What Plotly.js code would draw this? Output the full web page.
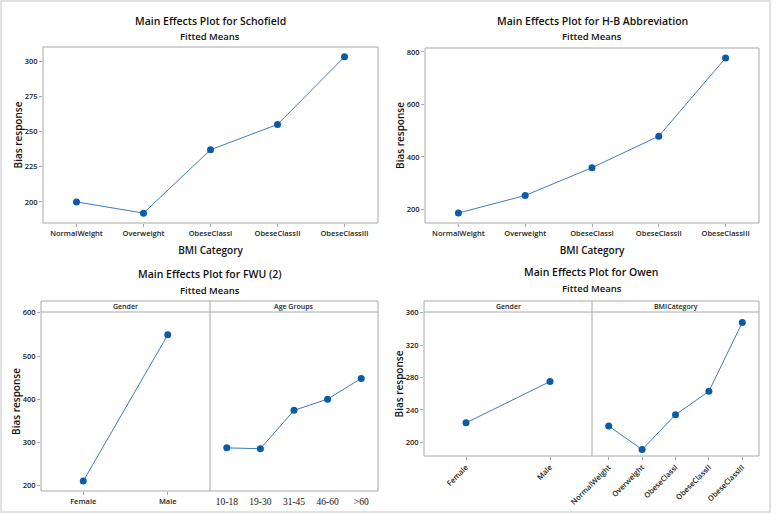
<!DOCTYPE html>
<html>
<head>
<meta charset="utf-8">
<script src="https://cdn.plot.ly/plotly-3.0.1.min.js"></script>
<style>
  html, body { margin: 0; padding: 0; background: #ffffff; }
  #chart { width: 778px; height: 514px; }
</style>
</head>
<body>
<div id="chart"></div>
<script>
// categories
const bmiCats = ['NormalWeight', 'Overweight', 'ObeseClassI', 'ObeseClassII', 'ObeseClassIII'];
const genderCats = ['Female', 'Male'];
const ageCats = ['10-18', '19-30', '31-45', '46-60', '>60'];

// fitted means
const schofield = [200, 192, 237, 255, 303];
const hbAbbrev = [186, 253, 359, 479, 777];
const fwuGender = [210, 549];
const fwuAge = [287, 285, 374, 400, 448];
const owenGender = [224, 275];
const owenBmi = [220, 191, 234, 263, 348];

const FONT = 'Open Sans, Noto Sans, sans-serif';
const BOX = '#a8a8a8';
const LINE = '#3f7bc4';
const DOT = '#0d5aa7';

function series(x, y, xa, ya) {
    return {
        x: x, y: y, xaxis: xa, yaxis: ya,
        type: 'scatter', mode: 'lines+markers',
        line: { color: LINE, width: 1 },
        marker: { color: DOT, size: 7 },
        hoverinfo: 'x+y'
    };
}

const traces = [
    series(bmiCats, schofield, 'x', 'y'),
    series(bmiCats, hbAbbrev, 'x2', 'y2'),
    series(genderCats, fwuGender, 'x3', 'y3'),
    series(ageCats, fwuAge, 'x4', 'y3'),
    series(genderCats, owenGender, 'x5', 'y4'),
    series(bmiCats, owenBmi, 'x6', 'y4')
];

const tickFont = { family: FONT, size: 7.5, color: '#222', weight: 600 };
const axTitleFont = { family: FONT, size: 10, color: '#111', weight: 600 };

function xAxis(domain, anchor, n, extra) {
    return Object.assign({
        domain: domain, anchor: anchor, type: 'category',
        range: [-0.5, n - 0.5],
        showgrid: false, zeroline: false,
        showline: false,
        ticks: 'outside', ticklen: 3, tickcolor: BOX,
        tickfont: tickFont, fixedrange: true
    }, extra || {});
}

function yAxis(domain, anchor, range, dtick, extra) {
    return Object.assign({
        domain: domain, anchor: anchor,
        range: range, dtick: dtick,
        showgrid: false, zeroline: false, showline: false,
        ticks: 'outside', ticklen: 3, tickcolor: BOX,
        tickfont: tickFont, fixedrange: true,
        title: { text: 'Bias response', font: axTitleFont, standoff: 0 }
    }, extra || {});
}

const W = 778, H = 514;
const px = v => v / W;
const py = v => 1 - v / H;

// plot boxes (pixel positions in the 778x514 frame)
const tl = { l: 43, r: 378, t: 47, b: 223 };
const tr = { l: 425, r: 759, t: 48, b: 223 };
const bl = { l: 41, m: 210, r: 378, st: 301, t: 312, b: 491 };
const br = { l: 424, m: 592, r: 759, st: 301, t: 312, b: 456 };

const layout = {
    width: W, height: H,
    margin: { t: 0, r: 0, b: 0, l: 0 },
    showlegend: false,
    plot_bgcolor: '#ffffff',
    paper_bgcolor: '#ffffff',
    font: { family: FONT, color: '#111' },

    xaxis: xAxis([px(tl.l), px(tl.r)], 'y', 5, {
        title: { text: 'BMI Category', font: axTitleFont, standoff: 9 }
    }),
    yaxis: yAxis([py(tl.b), py(tl.t)], 'x', [185, 310], 25),

    xaxis2: xAxis([px(tr.l), px(tr.r)], 'y2', 5, {
        title: { text: 'BMI Category', font: axTitleFont, standoff: 9 }
    }),
    yaxis2: yAxis([py(tr.b), py(tr.t)], 'x2', [148, 815], 200),

    xaxis3: xAxis([px(bl.l), px(bl.m)], 'y3', 2),
    xaxis4: xAxis([px(bl.m), px(bl.r)], 'y3', 5, {
        ticks: '', ticklabelstandoff: 3,
        tickfont: { family: 'Liberation Serif, DejaVu Serif, serif', size: 9.5, color: '#111' }
    }),
    yaxis3: yAxis([py(bl.b), py(bl.t)], 'x3', [187, 602], 100),

    xaxis5: xAxis([px(br.l), px(br.m)], 'y4', 2, { tickangle: -45 }),
    xaxis6: xAxis([px(br.m), px(br.r)], 'y4', 5, { tickangle: -45 }),
    yaxis4: yAxis([py(br.b), py(br.t)], 'x5', [183, 361], 40),

    shapes: [],
    annotations: []
};

function box(b) {
    layout.shapes.push({
        type: 'rect', xref: 'paper', yref: 'paper',
        x0: px(b.l), x1: px(b.r), y0: py(b.b), y1: py(b.t),
        line: { color: BOX, width: 1 }, fillcolor: 'rgba(0,0,0,0)'
    });
}

function strips(b, labels) {
    box({ l: b.l, r: b.r, t: b.st, b: b.b });
    layout.shapes.push({
        type: 'line', xref: 'paper', yref: 'paper',
        x0: px(b.l), x1: px(b.r), y0: py(b.t), y1: py(b.t),
        line: { color: BOX, width: 1 }
    });
    layout.shapes.push({
        type: 'line', xref: 'paper', yref: 'paper',
        x0: px(b.m), x1: px(b.m), y0: py(b.b), y1: py(b.st),
        line: { color: BOX, width: 1 }
    });
    const centers = [(b.l + b.m) / 2, (b.m + b.r) / 2];
    labels.forEach((txt, i) => {
        layout.annotations.push({
            text: txt, xref: 'paper', yref: 'paper',
            x: px(centers[i]), y: py((b.st + b.t) / 2),
            xanchor: 'center', yanchor: 'middle', showarrow: false,
            font: { family: FONT, size: 7, color: '#222', weight: 600 }
        });
    });
}

function heading(title, cx, ty) {
    layout.annotations.push({
        text: title, xref: 'paper', yref: 'paper',
        x: px(cx), y: py(ty), xanchor: 'center', yanchor: 'middle', showarrow: false,
        font: { family: FONT, size: 10.5, color: '#111', weight: 600 }
    });
    layout.annotations.push({
        text: 'Fitted Means', xref: 'paper', yref: 'paper',
        x: px(cx), y: py(ty + 16), xanchor: 'center', yanchor: 'middle', showarrow: false,
        font: { family: FONT, size: 9.5, color: '#111', weight: 600 }
    });
}

box(tl);
box(tr);
strips(bl, ['Gender', 'Age Groups']);
strips(br, ['Gender', 'BMICategory']);

heading('Main Effects Plot for Schofield', (tl.l + tl.r) / 2, 21);
heading('Main Effects Plot for H-B Abbreviation', (tr.l + tr.r) / 2, 21);
heading('Main Effects Plot for FWU (2)', (bl.l + bl.r) / 2, 274);
heading('Main Effects Plot for Owen', (br.l + br.r) / 2, 272);

// faint outer frame
layout.shapes.push({
    type: 'rect', xref: 'paper', yref: 'paper',
    x0: px(1), x1: px(770), y0: py(512), y1: py(1),
    line: { color: '#e2e2e2', width: 2 }, fillcolor: 'rgba(0,0,0,0)'
});

Plotly.newPlot('chart', traces, layout, { displayModeBar: false, staticPlot: true });
</script>
</body>
</html>
